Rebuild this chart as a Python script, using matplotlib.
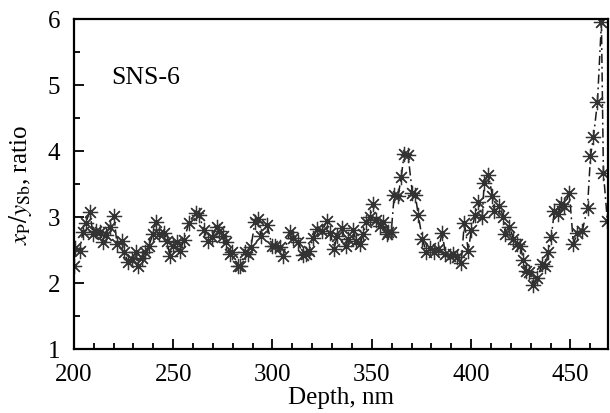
import matplotlib
matplotlib.use("Agg")
import matplotlib.pyplot as plt
from matplotlib.ticker import MultipleLocator

plt.rcParams["font.family"] = ["Liberation Serif", "DejaVu Serif"]
plt.rcParams["mathtext.fontset"] = "stix"

LINE_COLOR = "#1a1a1a"
MARKER_COLOR = "#333333"

depth_nm = [
    200.0, 200.5, 203.0, 204.5, 206.0, 208.1, 209.6, 211.1, 213.1, 214.6,
    216.1, 218.1, 220.2, 221.7, 224.2, 225.2, 227.2, 229.2, 231.2, 232.3,
    234.3, 235.8, 237.8, 239.8, 241.3, 242.8, 245.4, 246.9, 248.4, 249.9,
    251.9, 253.4, 255.4, 258.0, 261.5, 263.0, 265.5, 267.5, 269.6, 272.1,
    273.1, 275.1, 276.6, 278.6, 279.6, 282.7, 283.7, 286.2, 287.7, 289.2,
    291.2, 292.7, 294.2, 297.3, 299.8, 301.3, 303.8, 305.3, 308.9, 310.4,
    312.9, 315.4, 316.9, 318.4, 320.5, 322.5, 325.0, 327.5, 329.0, 331.0,
    332.6, 335.1, 337.1, 338.1, 340.6, 342.1, 344.1, 345.7, 347.2, 349.2,
    350.7, 352.2, 354.2, 355.7, 357.8, 358.3, 359.8, 361.3, 363.3, 364.8,
    366.3, 368.3, 370.4, 371.9, 373.4, 375.4, 377.4, 379.4, 381.4, 383.5,
    385.5, 387.0, 389.5, 391.0, 393.0, 395.0, 396.6, 398.6, 400.1, 402.1,
    403.6, 405.6, 406.6, 408.7, 410.7, 411.7, 414.2, 416.2, 417.2, 419.2,
    421.3, 423.3, 424.8, 426.3, 427.8, 429.3, 431.3, 433.4, 435.9, 437.4,
    438.9, 440.4, 441.9, 443.9, 445.5, 447.0, 449.5, 451.5, 453.5, 456.0,
    458.6, 460.1, 461.6, 463.6, 465.6, 466.6, 468.6,
]

ratio = [
    2.26, 2.53, 2.48, 2.77, 2.91, 3.08, 2.74, 2.79, 2.77, 2.62,
    2.73, 2.85, 3.02, 2.59, 2.64, 2.47, 2.32, 2.36, 2.47, 2.26,
    2.38, 2.47, 2.56, 2.74, 2.92, 2.74, 2.76, 2.64, 2.41, 2.56,
    2.62, 2.48, 2.65, 2.91, 3.06, 3.03, 2.80, 2.64, 2.70, 2.85,
    2.79, 2.71, 2.62, 2.44, 2.47, 2.26, 2.26, 2.47, 2.44, 2.55,
    2.92, 2.97, 2.71, 2.88, 2.56, 2.56, 2.55, 2.41, 2.77, 2.68,
    2.62, 2.42, 2.44, 2.48, 2.68, 2.82, 2.79, 2.94, 2.76, 2.52,
    2.71, 2.83, 2.56, 2.67, 2.80, 2.64, 2.59, 2.74, 2.92, 3.00,
    3.20, 2.95, 2.86, 2.92, 2.74, 2.77, 2.77, 3.33, 3.32, 3.60,
    3.95, 3.93, 3.36, 3.33, 3.03, 2.67, 2.47, 2.53, 2.47, 2.52,
    2.76, 2.44, 2.41, 2.44, 2.39, 2.30, 2.91, 2.48, 2.80, 3.03,
    3.23, 3.00, 3.52, 3.64, 3.32, 3.09, 3.17, 3.00, 2.74, 2.85,
    2.67, 2.59, 2.56, 2.35, 2.18, 2.17, 1.97, 2.08, 2.29, 2.26,
    2.47, 2.70, 3.09, 3.05, 3.20, 3.17, 3.36, 2.59, 2.76, 2.79,
    3.14, 3.92, 4.21, 4.74, 5.95, 3.67, 2.94,
]

x_ticks = [200, 250, 300, 350, 400, 450]
y_ticks = [1, 2, 3, 4, 5, 6]

fig = plt.figure(figsize=(6.1, 4.14), dpi=100)
ax = fig.add_axes([0.121, 0.155, 0.876, 0.797])

ax.plot(depth_nm, ratio, linestyle="-.", linewidth=1.1, color=LINE_COLOR,
        dashes=(6, 2.5, 1.2, 2.5),
        marker=(8, 2, 0), markersize=11, markeredgewidth=0.9,
        markeredgecolor=MARKER_COLOR, markerfacecolor=MARKER_COLOR)

ax.set_xlim(200, 469)
ax.set_ylim(1, 6)
ax.set_xticks(x_ticks)
ax.set_yticks(y_ticks)
ax.xaxis.set_minor_locator(MultipleLocator(10))
ax.yaxis.set_minor_locator(MultipleLocator(0.5))
ax.tick_params(which="both", direction="in", top=False, right=False,
               labelsize=18, width=1.3)
ax.tick_params(axis="x", pad=10)
ax.tick_params(axis="y", pad=10)
ax.tick_params(which="major", length=7)
ax.tick_params(which="minor", length=4)
for spine in ax.spines.values():
    spine.set_linewidth(1.6)

ax.set_xlabel("Depth, nm", fontsize=18, labelpad=1)
ax.set_ylabel(r"$x_{\mathrm{P}}/y_{\mathrm{Sb}}$, ratio", fontsize=18, labelpad=10)
ax.text(219, 5.12, "SNS-6", fontsize=18.5, ha="left", va="center")

fig.savefig("out.png", dpi=100)
